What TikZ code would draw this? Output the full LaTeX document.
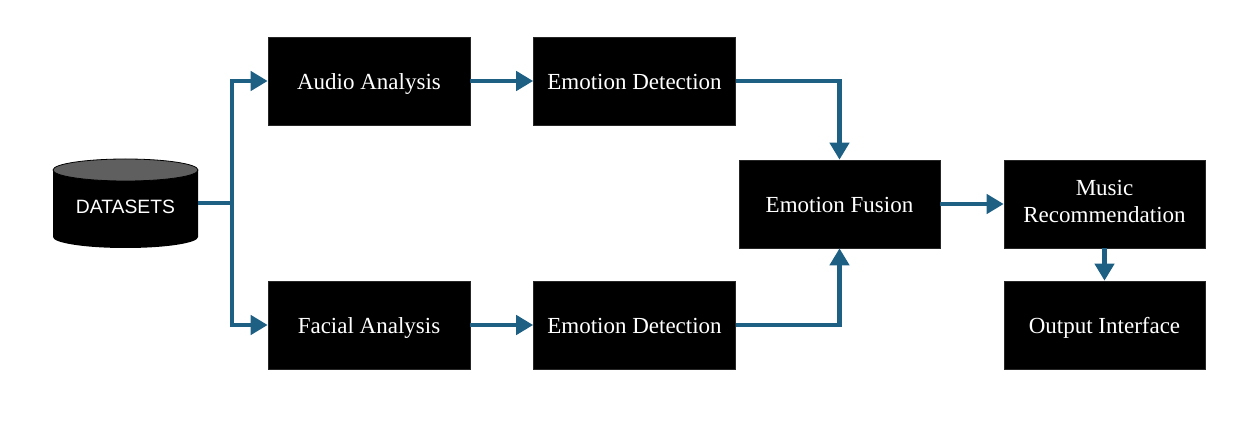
\documentclass[tikz,border=0pt]{standalone}
\usepackage{fontspec}
\setmainfont{Liberation Serif}
\newfontfamily\arialfont{Liberation Sans}
\usetikzlibrary{arrows.meta,calc}
\definecolor{arrowblue}{RGB}{30,96,132}
\definecolor{capgray}{RGB}{95,95,95}
\tikzset{
  box/.style={draw=black!85,fill=black,text=white,minimum width=202pt,minimum height=88pt,
    inner sep=0pt,font=\fontsize{23}{27}\selectfont,align=center,line width=0.6pt,
    execute at begin node={\rule[-6pt]{0pt}{30pt}},
    execute at end node={\rule[-6pt]{0pt}{28pt}}},
  conn/.style={draw=arrowblue,line width=4.4pt,-{Triangle[length=17pt,width=19pt]}},
}
\begin{document}
\begin{tikzpicture}[x=1pt,y=-1pt]
\useasboundingbox (0,0) rectangle (1245,427);
% cylinder
\fill[black] (53,170) -- (53,237) arc[start angle=180,end angle=0,x radius=72.5,y radius=11] -- (198,170) -- cycle;
\draw[black,line width=0.8pt,fill=capgray] (125.5,170) ellipse [x radius=72.5,y radius=11];
\node[text=white,font=\arialfont\fontsize{19.3}{21}\selectfont] (ds) at (125.5,207) {DATASETS};
\coordinate (dsr) at (198,203);
\coordinate (trunk) at (232,203);
% boxes
\node[box] (aa) at (369,81) {Audio Analysis};
\node[box] (fa) at (369,325) {Facial Analysis};
\node[box] (ed1) at (634.5,81) {Emotion Detection};
\node[box] (ed2) at (634.5,325) {Emotion Detection};
\node[box,minimum width=201pt] (ef) at (839.5,204) {Emotion Fusion};
\node[box,minimum width=201pt] (mr) at (1104.5,204) {\raisebox{-4pt}{\begin{tabular}{@{}c@{}}Music\\Recommendation\end{tabular}}};
\node[box,minimum width=201pt] (oi) at (1104.5,325) {Output Interface};
% connectors
\draw[draw=arrowblue,line width=4.4pt] (dsr) -- (trunk);
\draw[conn] (trunk) |- (aa.west);
\draw[conn] (trunk) |- (fa.west);
\draw[conn] (aa.east) -- (ed1.west);
\draw[conn] (fa.east) -- (ed2.west);
\draw[conn] (ed1.east) -| (ef.north);
\draw[conn] (ed2.east) -| (ef.south);
\draw[conn] (ef.east) -- (mr.west);
\draw[conn] (mr.south) -- (oi.north);
\end{tikzpicture}
\end{document}
